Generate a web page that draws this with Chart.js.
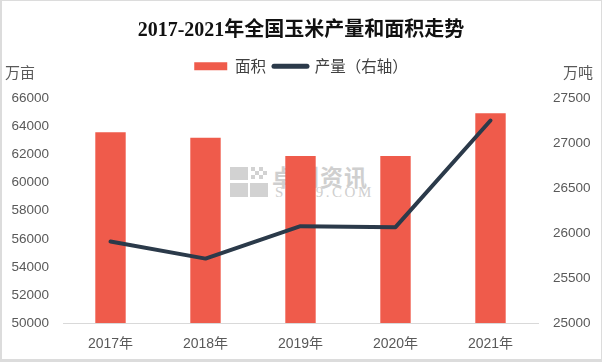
<!DOCTYPE html>
<html>
<head>
<meta charset="utf-8">
<script src="https://cdn.jsdelivr.net/npm/chart.js@4/dist/chart.umd.min.js"></script>
<style>
  html, body { margin: 0; padding: 0; background: #ffffff; }
  #wrap { position: relative; width: 602px; height: 362px; overflow: hidden; background: #fff; }
  #chart { position: absolute; left: 0; top: 0; z-index: 2; }
  .unit { position: absolute; top: 62px; font: 15px/20px "Noto Sans CJK SC", sans-serif; color: #595959; z-index: 3; }
  #wm { position: absolute; left: 230px; top: 167px; z-index: 1; }
  #wm .logo div { position: absolute; background: #d2d2d2; }
  #wm .cn { position: absolute; left: 42px; top: -2px; font: bold 23px/23px "Noto Sans CJK SC", sans-serif; letter-spacing: 1px; white-space: nowrap; color: #cfcfcf; }
  #wm .en { position: absolute; left: 45px; top: 17.5px; font: 15px/15px "Liberation Serif", serif; letter-spacing: 2.5px; white-space: nowrap; color: #cfcfcf; }
  #frame { position: absolute; left: 0; top: 0; width: 602px; height: 362px; box-sizing: border-box; border: 1px solid #dcdcdc; border-left-width: 2px; border-bottom: 3px solid #dcdcdc; z-index: 4; pointer-events: none; }
</style>
</head>
<body>
<div id="wrap">
  <div id="wm">
    <div class="logo">
      <div style="left:0;top:0;width:18px;height:13px"></div>
      <div style="left:21px;top:0;width:4px;height:4px"></div>
      <div style="left:29px;top:0;width:4px;height:4px"></div>
      <div style="left:25px;top:4px;width:4px;height:4px"></div>
      <div style="left:33px;top:4px;width:4px;height:4px"></div>
      <div style="left:21px;top:8px;width:4px;height:4px"></div>
      <div style="left:29px;top:8px;width:4px;height:4px"></div>
      <div style="left:0;top:16px;width:18px;height:14px"></div>
      <div style="left:20px;top:16px;width:18px;height:14px"></div>
    </div>
    <div class="cn">卓创资讯</div>
    <div class="en">SCI99.COM</div>
  </div>
  <canvas id="chart" width="602" height="362"></canvas>
  <div class="unit" style="left:5px;">万亩</div>
  <div class="unit" style="left:563px;">万吨</div>
  <div id="frame"></div>
</div>
<script>
// ---- data ----
const years = ['2017年', '2018年', '2019年', '2020年', '2021年'];
const areaValues = [63600, 63200, 61900, 61900, 64950];        // 面积 (万亩)
const outputValues = [25907, 25717, 26078, 26067, 27255];      // 产量 (万吨)
const chartTitle = '2017-2021年全国玉米产量和面积走势';
const areaLabel = '面积';
const outputLabel = '产量（右轴）';

const BAR_COLOR = '#EF5B4B';
const LINE_COLOR = '#2B3A4A';
const TICK_COLOR = '#595959';

const ctx = document.getElementById('chart').getContext('2d');
new Chart(ctx, {
  data: {
    labels: years,
    datasets: [
      {
        type: 'line',
        label: outputLabel,
        data: outputValues,
        yAxisID: 'y1',
        borderColor: LINE_COLOR,
        backgroundColor: LINE_COLOR,
        borderWidth: 4,
        pointRadius: 0,
        pointHoverRadius: 0,
        tension: 0,
        borderJoinStyle: 'round',
        borderCapStyle: 'round',
        order: 1
      },
      {
        type: 'bar',
        label: areaLabel,
        data: areaValues,
        yAxisID: 'y',
        backgroundColor: BAR_COLOR,
        borderWidth: 0,
        barPercentage: 0.32,
        categoryPercentage: 1.0,
        order: 2
      }
    ]
  },
  options: {
    responsive: false,
    animation: false,
    devicePixelRatio: 1,
    layout: { padding: { top: 0, left: 0, right: 0, bottom: 0 } },
    plugins: {
      tooltip: { enabled: false },
      title: {
        display: true,
        text: chartTitle,
        color: '#111111',
        font: { family: '"Liberation Serif", "Noto Sans CJK SC", serif', size: 20, weight: 'bold', lineHeight: 1.2 },
        padding: { top: 19, bottom: 7.5 }
      },
      subtitle: {
        display: true,
        text: '',
        position: 'top',
        weight: 500,
        font: { size: 5, lineHeight: 1 },
        padding: { top: 0, bottom: 9.5 }
      },
      legend: {
        display: true,
        position: 'top',
        labels: {
          color: '#404040',
          font: { family: '"Noto Sans CJK SC", sans-serif', size: 15.5 },
          usePointStyle: true,
          pointStyleWidth: 33,
          boxHeight: 8,
          padding: 8,
          generateLabels: function (chart) {
            return [
              { text: areaLabel, fillStyle: BAR_COLOR, strokeStyle: BAR_COLOR, lineWidth: 0, pointStyle: 'rect', datasetIndex: 1, fontColor: '#404040' },
              { text: outputLabel, fillStyle: LINE_COLOR, strokeStyle: LINE_COLOR, lineWidth: 5, lineCap: 'round', pointStyle: 'line', datasetIndex: 0, fontColor: '#404040' }
            ];
          }
        }
      }
    },
    scales: {
      x: {
        grid: { display: false, drawTicks: false },
        border: { display: true, color: '#d9d9d9', width: 1 },
        ticks: {
          color: TICK_COLOR,
          padding: 13,
          font: { family: '"Liberation Sans", "Noto Sans CJK SC", sans-serif', size: 14, lineHeight: 1.2 }
        },
        afterFit: s => { s.height = 39; }
      },
      y: {
        position: 'left',
        min: 50000,
        max: 66000,
        grid: { display: false, drawTicks: false },
        border: { display: false },
        ticks: {
          stepSize: 2000,
          color: TICK_COLOR,
          padding: 14,
          font: { family: '"Liberation Sans", sans-serif', size: 13.5 },
          callback: v => String(v)
        },
        afterFit: s => { s.width = 63; }
      },
      y1: {
        position: 'right',
        min: 25000,
        max: 27500,
        grid: { display: false, drawTicks: false },
        border: { display: false },
        ticks: {
          stepSize: 500,
          color: TICK_COLOR,
          padding: 15,
          font: { family: '"Liberation Sans", sans-serif', size: 13.5 },
          callback: v => String(v)
        },
        afterFit: s => { s.width = 64; }
      }
    }
  }
});
</script>
</body>
</html>
